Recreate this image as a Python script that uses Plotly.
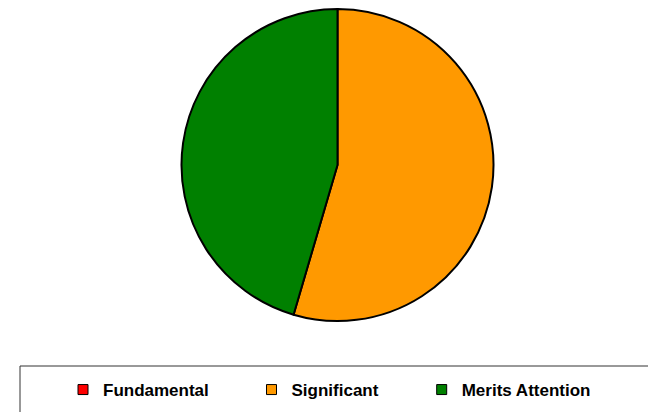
import plotly.graph_objects as go

labels = ["Fundamental", "Significant", "Merits Attention"]
values = [0, 6, 5]
colors = ["#FF0000", "#FF9900", "#008000"]

W, H = 648, 412

fig = go.Figure()
fig.add_trace(go.Pie(
    labels=labels, values=values, sort=False, direction="clockwise", rotation=0,
    marker=dict(colors=colors, line=dict(color="black", width=2)),
    textinfo="none", hoverinfo="label+value+percent", showlegend=False,
    domain=dict(x=[(337.5 - 156) / W, (337.5 + 156) / W], y=[1 - 321 / H, 1 - 9 / H]),
))

legend_names = ["legend", "legend2", "legend3"]
text_starts = [102, 290.5, 460.7]
for lab, col, lg in zip(labels, colors, legend_names):
    fig.add_trace(go.Scatter(
        x=[None], y=[None], mode="markers", name=lab, legend=lg,
        marker=dict(symbol="square", size=10, color=col, line=dict(color="black", width=1)),
        showlegend=True, hoverinfo="skip",
    ))

layout_legends = {}
for lg, ts in zip(legend_names, text_starts):
    layout_legends[lg] = dict(
        x=(ts - 40 + 1) / W, xanchor="left", y=1 - 390 / H, yanchor="middle",
        orientation="h", bgcolor="rgba(0,0,0,0)", borderwidth=0,
        font=dict(family="Liberation Sans, Arial, sans-serif", size=17, color="black", weight="bold"),
        itemwidth=30,
    )

fig.update_layout(
    width=W, height=H, margin=dict(l=0, r=0, t=0, b=0),
    paper_bgcolor="white", plot_bgcolor="white",
    xaxis=dict(visible=False), yaxis=dict(visible=False),
    shapes=[dict(type="rect", xref="paper", yref="paper",
                 x0=20 / W, x1=1.05, y0=-0.05, y1=1 - 366 / H,
                 line=dict(color="#333333", width=1), fillcolor="rgba(0,0,0,0)")],
    **layout_legends,
)

fig.write_html("out.html")
